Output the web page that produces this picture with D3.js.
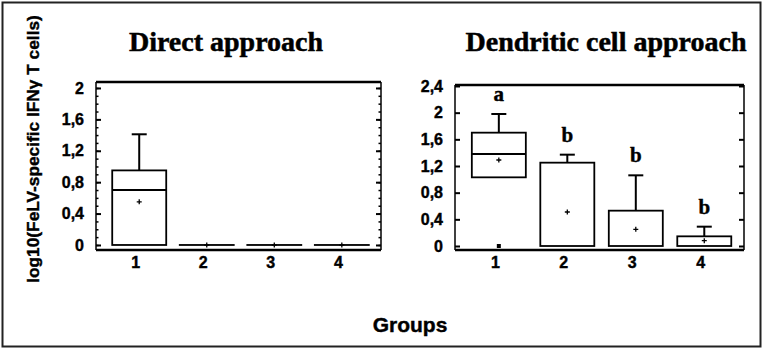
<!DOCTYPE html>
<head>
  <meta charset="utf-8">
  <script src="https://d3js.org/d3.v7.min.js"></script>
  <style>
    body { margin: 0; background: #fff; }
    svg { width: 764px; height: 351px; display: block; }
    .tick text { font-family: "Liberation Sans", Arial, sans-serif; font-weight: bold; font-size: 16px; fill: #000; stroke: #000; stroke-width: 0.4px; }
  </style>
</head>

<body>
  <svg></svg>

  <script>
    // categories + tick labels
    const groups = [1, 2, 3, 4];
    const directTicks = [0, 0.4, 0.8, 1.2, 1.6, 2];
    const dcTicks = [0, 0.4, 0.8, 1.2, 1.6, 2, 2.4];
    const minorTicks = d3.range(0, 2.05, 0.1);

    // direct approach
    const directQ1 = [0, 0, 0, 0];
    const directMedian = [0.70, 0, 0, 0];
    const directQ3 = [0.95, 0, 0, 0];
    const directWhiskerHi = [1.41, 0, 0, 0];
    const directMean = [0.55, 0, 0, 0];

    // dendritic cell approach
    const dcQ1 = [1.03, 0, 0, 0];
    const dcMedian = [1.38, 0, 0, 0];
    const dcQ3 = [1.70, 1.25, 0.53, 0.145];
    const dcWhiskerHi = [1.98, 1.37, 1.06, 0.29];
    const dcMean = [1.29, 0.51, 0.25, 0.08];
    const dcOutliers = [{ group: 1, value: 0 }];
    const dcLetters = ['a', 'b', 'b', 'b'];

    const commaFmt = d3.formatLocale({ decimal: ',', thousands: '.', grouping: [3], currency: ['', ''] }).format('.1~f');

    const svg = d3.select('svg');

    // outer frame
    svg.append('rect')
      .attr('x', 2.5).attr('y', 2.5).attr('width', 758).attr('height', 344)
      .attr('fill', 'none').attr('stroke', '#222').attr('stroke-width', 2);

    /*****************************************************
    ** one panel
    ******************************************************/
    function panel(opts) {
      const { left, right, top, bottom, yDomain, ticks, minor, title, titleX } = opts;
      const x = d3.scaleLinear().domain([0.36, 4.58]).range([left, right]);
      const y = d3.scaleLinear().domain(yDomain).range([bottom, top]);
      const g = svg.append('g');

      const data = groups.map((grp, i) => ({
        grp,
        q1: opts.q1[i], med: opts.med[i], q3: opts.q3[i],
        hi: opts.hi[i], mean: opts.mean[i],
        letter: opts.letters ? opts.letters[i] : null
      }));

      // left axis, ticks pointing inward
      g.append('g').attr('transform', `translate(${left},0)`)
        .call(d3.axisLeft(y).tickValues(ticks).tickFormat(commaFmt).tickSizeInner(-5).tickSizeOuter(0).tickPadding(12))
        .call(a => a.select('.domain').remove())
        .call(a => a.selectAll('line').attr('stroke', '#000').attr('stroke-width', 2));
      g.append('g').attr('transform', `translate(${right},0)`)
        .call(d3.axisRight(y).tickValues(ticks).tickFormat('').tickSizeInner(-5).tickSizeOuter(0))
        .call(a => a.select('.domain').remove())
        .call(a => a.selectAll('line').attr('stroke', '#000').attr('stroke-width', 2));
      if (minor) {
        [[left, d3.axisLeft], [right, d3.axisRight]].forEach(([pos, ax]) => {
          g.append('g').attr('transform', `translate(${pos},0)`)
            .call(ax(y).tickValues(minor).tickFormat('').tickSizeInner(-2.5).tickSizeOuter(0))
            .call(a => a.select('.domain').remove())
            .call(a => a.selectAll('line').attr('stroke', '#000').attr('stroke-width', 1.5));
        });
      }

      // x labels
      g.append('g').attr('transform', `translate(-4,${bottom})`)
        .call(d3.axisBottom(x).tickValues(groups).tickFormat(d3.format('d')).tickSize(0).tickPadding(7))
        .call(a => a.select('.domain').remove());

      // frame
      g.append('line').attr('x1', left).attr('x2', right).attr('y1', top).attr('y2', top)
        .attr('stroke', '#000').attr('stroke-width', 2.5);
      g.append('line').attr('x1', left).attr('x2', right).attr('y1', bottom).attr('y2', bottom)
        .attr('stroke', '#000').attr('stroke-width', 2.5);
      [left, right].forEach(px => g.append('line').attr('x1', px).attr('x2', px).attr('y1', top).attr('y2', bottom)
        .attr('stroke', '#000').attr('stroke-width', 1.5));

      const bw = 54;
      const box = g.selectAll('.box').data(data).enter().append('g').attr('class', 'box');

      // whisker
      box.filter(d => d.hi > d.q3).append('line')
        .attr('x1', d => x(d.grp)).attr('x2', d => x(d.grp))
        .attr('y1', d => y(d.q3)).attr('y2', d => y(d.hi))
        .attr('stroke', '#000').attr('stroke-width', 2);
      box.filter(d => d.hi > d.q3).append('line')
        .attr('x1', d => x(d.grp) - 7.5).attr('x2', d => x(d.grp) + 7.5)
        .attr('y1', d => y(d.hi)).attr('y2', d => y(d.hi))
        .attr('stroke', '#000').attr('stroke-width', 2);

      box.append('rect')
        .attr('x', d => x(d.grp) - bw / 2).attr('width', bw)
        .attr('y', d => y(d.q3)).attr('height', d => Math.max(y(d.q1) - y(d.q3), 0.01))
        .attr('fill', '#fff').attr('stroke', '#000').attr('stroke-width', 1.8);
      box.filter(d => d.med > d.q1).append('line')
        .attr('x1', d => x(d.grp) - bw / 2).attr('x2', d => x(d.grp) + bw / 2)
        .attr('y1', d => y(d.med)).attr('y2', d => y(d.med))
        .attr('stroke', '#000').attr('stroke-width', 2);

      // mean "+"
      box.append('path')
        .attr('d', d => `M${x(d.grp) - 2.5},${y(d.mean)}h5M${x(d.grp)},${y(d.mean) - 2.5}v5`)
        .attr('stroke', '#000').attr('stroke-width', 1.3);

      // significance letters
      box.filter(d => d.letter).append('text')
        .attr('x', d => x(d.grp)).attr('y', d => y(d.hi) - 13)
        .attr('text-anchor', 'middle')
        .attr('font-family', '"Liberation Serif", "Times New Roman", serif')
        .attr('font-weight', 'bold').attr('font-size', 21)
        .attr('stroke', '#000').attr('stroke-width', 0.4)
        .text(d => d.letter);

      if (opts.outliers) {
        g.selectAll('.out').data(opts.outliers).enter().append('rect')
          .attr('x', d => x(d.group) - 2).attr('y', d => y(d.value) - 2)
          .attr('width', 4).attr('height', 4).attr('fill', '#000');
      }

      svg.append('text')
        .attr('x', titleX).attr('y', 51)
        .attr('text-anchor', 'middle')
        .attr('font-family', '"Liberation Serif", "Times New Roman", serif')
        .attr('font-weight', 'bold').attr('font-size', 28)
        .attr('stroke', '#000').attr('stroke-width', 0.5)
        .text(title);
    }

    panel({
      left: 96, right: 381, top: 82, bottom: 250,
      yDomain: [-0.064, 2.076], ticks: directTicks, minor: minorTicks,
      q1: directQ1, med: directMedian, q3: directQ3, hi: directWhiskerHi, mean: directMean,
      title: 'Direct approach', titleX: 226
    });

    panel({
      left: 455, right: 744, top: 85, bottom: 250,
      yDomain: [-0.06, 2.415], ticks: dcTicks,
      q1: dcQ1, med: dcMedian, q3: dcQ3, hi: dcWhiskerHi, mean: dcMean,
      outliers: dcOutliers, letters: dcLetters,
      title: 'Dendritic cell approach', titleX: 606
    });

    // axis titles
    svg.append('text')
      .attr('transform', 'translate(39,149)rotate(-90)')
      .attr('text-anchor', 'middle')
      .attr('font-family', '"Liberation Sans", Arial, sans-serif')
      .attr('font-weight', 'bold').attr('font-size', 17.3)
      .attr('stroke', '#000').attr('stroke-width', 0.4)
      .text('log10(FeLV-specific IFNγ T cells)');

    svg.append('text')
      .attr('x', 410).attr('y', 332)
      .attr('text-anchor', 'middle')
      .attr('font-family', '"Liberation Sans", Arial, sans-serif')
      .attr('font-weight', 'bold').attr('font-size', 21)
      .attr('stroke', '#000').attr('stroke-width', 0.4)
      .text('Groups');
  </script>
</body>
